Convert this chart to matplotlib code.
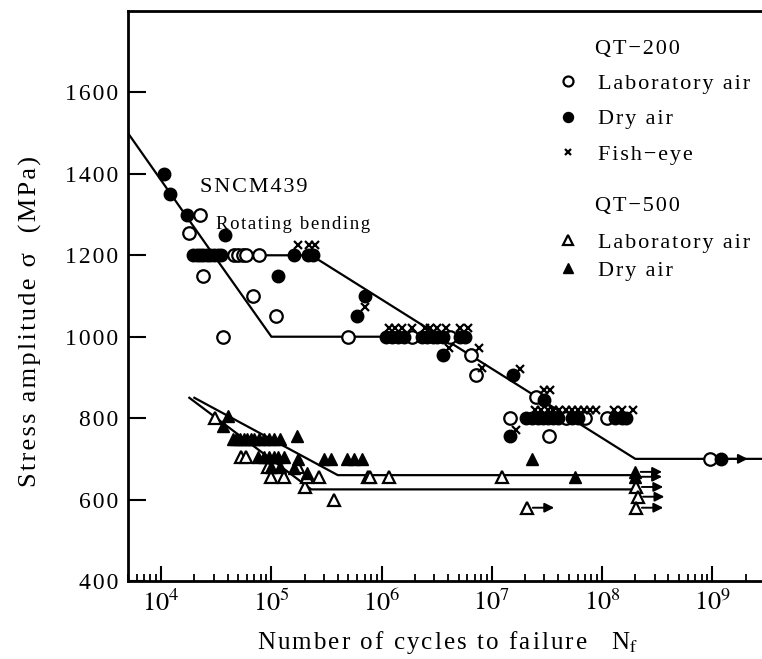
import numpy as np
import matplotlib
matplotlib.use("Agg")
import matplotlib.pyplot as plt
from matplotlib.ticker import FixedLocator, LogLocator, NullFormatter

plt.rcParams['font.family'] = ['Liberation Serif', 'DejaVu Serif']
plt.rcParams['mathtext.fontset'] = 'stix'

# QT-200, laboratory air (open circles)
lab200_N = [1.8e4, 2.27e4, 2.4e4, 3.6e4, 4.6e4, 5.0e4, 5.5e4, 5.9e4, 7.7e4, 6.8e4,
            1.1e5, 5.0e5, 1.9e6, 4.2e6, 6.5e6, 7.2e6, 2.5e7, 1.45e7, 3.3e7, 4.7e7,
            7.0e7, 1.1e8, 9.5e8]
lab200_S = [1255, 1300, 1150, 1000, 1200, 1200, 1200, 1200, 1200, 1100,
            1050, 1000, 1000, 1000, 955, 905, 852, 800, 755, 800,
            800, 800, 700]

# QT-200, dry air (filled circles)
dry200_N = [1.05e4, 1.2e4, 1.7e4, 3.8e4, 1.15e5,
            1.95e4, 2.1e4, 2.25e4, 2.4e4, 2.6e4, 2.8e4, 3.0e4, 3.3e4, 3.5e4,
            1.6e5, 2.15e5, 2.4e5, 7.0e5, 6.0e5,
            1.1e6, 1.25e6, 1.4e6, 1.6e6, 2.3e6, 2.6e6, 2.9e6, 3.2e6, 3.6e6, 5.1e6, 5.7e6,
            3.6e6, 1.55e7, 3.0e7,
            2.05e7, 2.3e7, 2.6e7, 2.9e7, 3.2e7, 3.6e7, 4.0e7, 5.3e7, 6.0e7, 1.3e8, 1.5e8, 1.65e8,
            1.45e7, 1.2e9]
dry200_S = [1400, 1350, 1300, 1250, 1150,
            1200, 1200, 1200, 1200, 1200, 1200, 1200, 1200, 1200,
            1200, 1200, 1200, 1100, 1050,
            1000, 1000, 1000, 1000, 1000, 1000, 1000, 1000, 1000, 1000, 1000,
            955, 905, 845,
            800, 800, 800, 800, 800, 800, 800, 800, 800, 800, 800, 800,
            755, 700]

# QT-200, fish-eye origin (crosses)
fish_N = [1.75e5, 2.2e5, 2.5e5, 7.1e5,
          1.16e6, 1.32e6, 1.54e6, 1.9e6, 2.45e6, 2.76e6, 3.2e6, 3.8e6, 5.1e6, 6.1e6,
          4.1e6, 7.6e6, 8.2e6, 1.8e7, 3.0e7, 3.4e7, 1.65e7,
          2.48e7, 2.8e7, 3.2e7, 3.6e7, 4.1e7, 4.7e7, 5.3e7, 6.0e7, 6.8e7, 7.8e7, 8.8e7,
          1.28e8, 1.5e8, 1.9e8]
fish_S = [1225, 1225, 1225, 1074,
          1022, 1022, 1022, 1022, 1022, 1022, 1022, 1022, 1022, 1022,
          973, 973, 922, 920, 870, 870, 770,
          820, 820, 820, 820, 820, 820, 820, 820, 820, 820, 820,
          820, 820, 820]

# QT-500, laboratory air (open triangles)
lab500_N = [3.1e4, 5.3e4, 5.9e4, 9.3e4, 1.0e5, 1.3e5, 1.75e5, 2.0e5, 2.1e5, 2.7e5,
            3.7e5, 7.5e5, 7.9e5, 1.17e6, 1.24e7, 2.1e7, 2.05e8, 2.1e8, 2.05e8]
lab500_S = [800, 705, 705, 680, 655, 655, 680, 630, 655, 655,
            600, 655, 655, 655, 655, 580, 631, 607, 580]

# QT-500, dry air (filled triangles)
dry500_N = [3.6e4, 4.0e4,
            4.5e4, 4.8e4, 5.2e4, 5.6e4, 6.0e4, 6.5e4, 7.0e4, 7.7e4, 8.5e4, 9.5e4, 1.05e5, 1.2e5,
            1.7e5,
            7.5e4, 8.5e4, 9.5e4, 1.05e5, 1.15e5, 1.3e5, 1.75e5, 3.0e5, 3.5e5, 4.8e5, 5.6e5, 6.6e5,
            1.0e5, 1.2e5, 1.6e5, 2.1e5,
            2.3e7, 5.7e7, 2.0e8, 2.0e8]
dry500_S = [780, 805,
            750, 750, 750, 750, 750, 750, 750, 750, 750, 750, 750, 750,
            755,
            705, 705, 705, 705, 705, 705, 700, 700, 700, 700, 700, 700,
            680, 680, 678, 665,
            700, 655, 668, 656]

# run-outs (arrows)
runout_N = [1.2e9, 2.1e7, 2.0e8, 2.0e8, 2.05e8, 2.1e8, 2.05e8]
runout_S = [700, 580, 668, 656, 631, 607, 580]

# fitted S-N lines
lineA_N = [5e3, 3.0e4, 2.3e5, 2.0e8, 3.2e9]
lineA_S = [1500, 1200, 1200, 700, 700]
lineB_N = [3.0e4, 1.0e5, 3.5e6]
lineB_S = [1200, 1000, 1000]
lineC_N = [2.0e4, 4.0e5, 2.0e8]
lineC_S = [850, 660, 660]
lineD_N = [1.8e4, 2.3e5, 2.0e8]
lineD_S = [850, 625, 625]

y_ticks = [400, 600, 800, 1000, 1200, 1400, 1600]
x_ticks = [1e4, 1e5, 1e6, 1e7, 1e8, 1e9]


def spaced(s):
    # wide letter spacing like the original typesetting
    return '\u200a'.join(s)


fig = plt.figure(figsize=(7.62, 6.59), dpi=100)
ax = fig.add_axes([128 / 762, 78 / 659, 640 / 762, 570 / 659])

for xs, ys in [(lineA_N, lineA_S), (lineB_N, lineB_S), (lineC_N, lineC_S), (lineD_N, lineD_S)]:
    ax.plot(xs, ys, color='black', lw=1.6, zorder=2)

ms = 9
h1, = ax.plot(lab200_N, lab200_S, 'o', ms=ms, mfc='white', mec='black', mew=1.6, ls='none', zorder=3)
h2, = ax.plot(dry200_N, dry200_S, 'o', ms=ms, mfc='black', mec='black', ls='none', zorder=4)
h3, = ax.plot(fish_N, fish_S, 'x', ms=6, mec='black', mew=1.6, ls='none', zorder=4)
h4, = ax.plot(lab500_N, lab500_S, '^', ms=ms, mfc='white', mec='black', mew=1.6, ls='none', zorder=3)
h5, = ax.plot(dry500_N, dry500_S, '^', ms=ms, mfc='black', mec='black', ls='none', zorder=4)

for n, s in zip(runout_N, runout_S):
    ax.annotate('', xy=(n * 1.75, s), xytext=(n * 1.12, s),
                arrowprops=dict(arrowstyle='-|>', color='black', lw=1.4,
                                mutation_scale=14, shrinkA=0, shrinkB=0), zorder=2)

ax.set_xscale('log')
ax.set_xlim(5e3, 3.2e9)
ax.set_ylim(400, 1800)

ax.xaxis.set_major_locator(FixedLocator(x_ticks))
ax.set_xticklabels([r'$10^{%d}$' % round(np.log10(v)) for v in x_ticks])
ax.xaxis.set_minor_locator(LogLocator(base=10, subs=np.arange(2, 10), numticks=20))
ax.xaxis.set_minor_formatter(NullFormatter())
ax.set_yticks(y_ticks)
ax.set_yticklabels([spaced(str(v)) for v in y_ticks])

ax.tick_params(axis='x', which='major', direction='in', length=11, width=1.5, labelsize=19, pad=6)
ax.tick_params(axis='x', which='minor', direction='in', length=5, width=1.3)
ax.tick_params(axis='y', which='major', direction='in', length=13, width=1.5, labelsize=17, pad=7)
ax.tick_params(top=False, right=False)

for side in ['left', 'bottom', 'top']:
    ax.spines[side].set_linewidth(2)
ax.spines['right'].set_visible(False)

ax.set_xlabel(spaced('Number of cycles to failure') + '    N' + r'$_{\rm f}$', fontsize=18, labelpad=10)
ax.set_ylabel(spaced('Stress amplitude σ') + '   ' + spaced('(MPa)'), fontsize=19)
ax.yaxis.set_label_coords(-0.134, 0.455)

ax.text(0.113, 0.69, spaced('SNCM439'), transform=ax.transAxes, fontsize=16, va='center')
ax.text(0.137, 0.625, spaced('Rotating bending'), transform=ax.transAxes, fontsize=13.5, va='center')

ax.text(0.73, 0.933, spaced('QT−200'), transform=ax.transAxes, fontsize=16, va='center')
ax.text(0.73, 0.657, spaced('QT−500'), transform=ax.transAxes, fontsize=16, va='center')

leg1 = ax.legend([h1, h2, h3], [spaced('Laboratory air'), spaced('Dry air'), spaced('Fish−eye')],
                 loc='upper left', bbox_to_anchor=(0.67, 0.89), frameon=False,
                 fontsize=16, handlelength=1.0, handletextpad=0.85, labelspacing=0.66,
                 borderpad=0, borderaxespad=0, markerscale=0.8)
ax.add_artist(leg1)
ax.legend([h4, h5], [spaced('Laboratory air'), spaced('Dry air')],
          loc='upper left', bbox_to_anchor=(0.67, 0.612), frameon=False,
          fontsize=16, handlelength=1.0, handletextpad=0.85, labelspacing=0.35,
          borderpad=0, borderaxespad=0, markerscale=0.8)

fig.savefig('out.png', dpi=100)
